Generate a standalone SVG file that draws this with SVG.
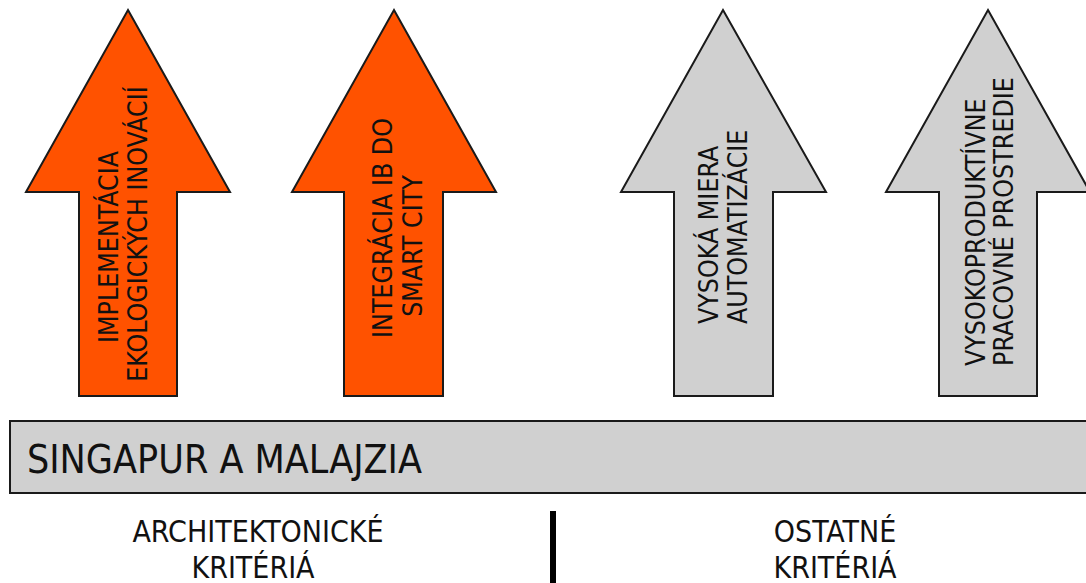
<svg xmlns="http://www.w3.org/2000/svg" width="1086" height="583" viewBox="0 0 1086 583">
  <style>
    .txt { font-family: "DejaVu Sans Condensed", "DejaVu Sans", sans-serif; font-stretch: condensed; fill: #111; }
    .arrow-orange { fill: #ff5200; stroke: #1a1a1a; stroke-width: 2; stroke-linejoin: miter; }
    .arrow-gray { fill: #d0d0d0; stroke: #1a1a1a; stroke-width: 2; stroke-linejoin: miter; }
    .vlabel { font-size: 26.5px; }
    .band { fill: #d0d0d0; stroke: #1a1a1a; stroke-width: 2; }
    .band-label { font-size: 39px; }
    .crit { font-size: 30px; text-anchor: middle; }
  </style>

  <!-- upward arrows -->
  <g id="arrow-eco">
    <polygon class="arrow-orange" points="128,10 230,192 177,192 177,396 79,396 79,192 26,192"/>
    <g class="txt vlabel" text-anchor="middle">
      <text transform="translate(118,247) rotate(-90)">IMPLEMENTÁCIA</text>
      <text transform="translate(147,234) rotate(-90)">EKOLOGICKÝCH INOVÁCIÍ</text>
    </g>
  </g>

  <g id="arrow-smart-city">
    <polygon class="arrow-orange" points="394,10 496,192 443,192 443,396 344,396 344,192 292,192"/>
    <g class="txt vlabel" text-anchor="middle">
      <text transform="translate(392,228) rotate(-90)">INTEGRÁCIA IB DO</text>
      <text transform="translate(422,246) rotate(-90)">SMART CITY</text>
    </g>
  </g>

  <g id="arrow-automation">
    <polygon class="arrow-gray" points="723,10 826,192 773,192 773,396 674,396 674,192 621,192"/>
    <g class="txt vlabel" text-anchor="start">
      <text transform="translate(718,324) rotate(-90)">VYSOKÁ MIERA</text>
      <text transform="translate(747,324) rotate(-90)">AUTOMATIZÁCIE</text>
    </g>
  </g>

  <g id="arrow-workplace">
    <polygon class="arrow-gray" points="988,10 1090,192 1037,192 1037,396 939,396 939,192 886,192"/>
    <g class="txt vlabel" text-anchor="start">
      <text transform="translate(985,366) rotate(-90)">VYSOKOPRODUKTÍVNE</text>
      <text transform="translate(1013,366) rotate(-90)">PRACOVNÉ PROSTREDIE</text>
    </g>
  </g>

  <!-- base band -->
  <g id="band">
    <rect class="band" x="10" y="421" width="1090" height="72"/>
    <text class="txt band-label" x="27" y="473">SINGAPUR A MALAJZIA</text>
  </g>

  <!-- category captions and divider -->
  <g id="caption-architecture">
    <text class="txt crit" x="258" y="542">ARCHITEKTONICKÉ</text>
    <text class="txt crit" x="253" y="578">KRITÉRIÁ</text>
  </g>

  <g id="divider">
    <rect x="550" y="511" width="6" height="74" fill="#000"/>
  </g>

  <g id="caption-other">
    <text class="txt crit" x="835" y="542">OSTATNÉ</text>
    <text class="txt crit" x="835" y="578">KRITÉRIÁ</text>
  </g>
</svg>
